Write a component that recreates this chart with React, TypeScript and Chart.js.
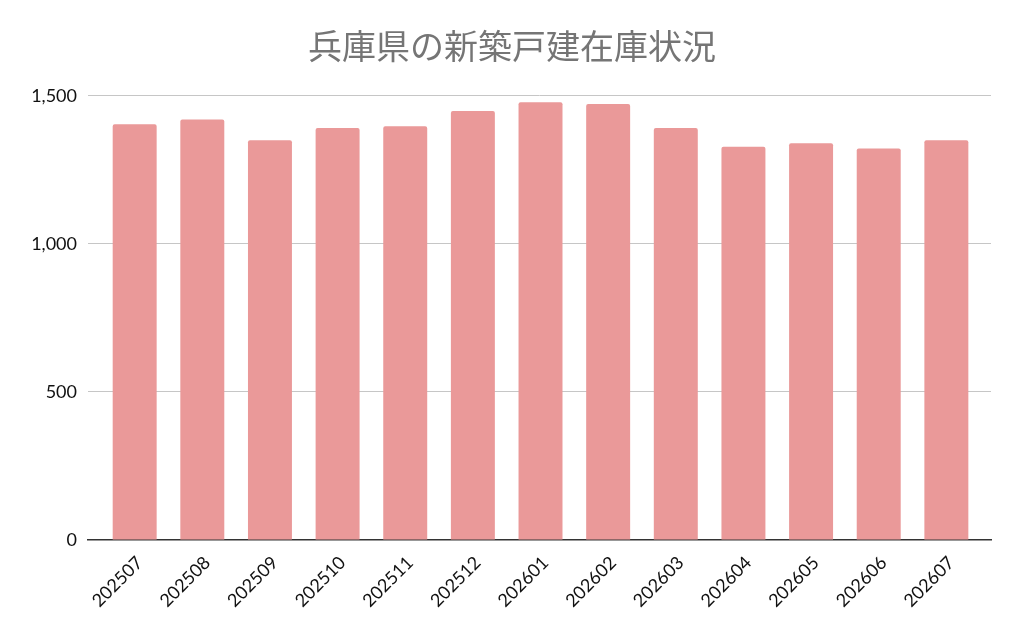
import { useEffect, useRef } from 'react'
import Chart from 'chart.js/auto'

const title = '兵庫県の新築戸建在庫状況'
const months = ['202507', '202508', '202509', '202510', '202511', '202512', '202601', '202602', '202603', '202604', '202605', '202606', '202607']
const stock = [1404, 1420, 1350, 1391, 1397, 1449, 1478, 1472, 1391, 1328, 1340, 1322, 1350]
const yMax = 1500
const yStep = 500

const App = () => {
  const canvasRef = useRef<HTMLCanvasElement>(null)
  const chartRef = useRef<Chart | null>(null)

  useEffect(() => {
    document.body.style.margin = '0'
    if (!canvasRef.current) return
    if (chartRef.current) chartRef.current.destroy()

    // x as a linear index so the bars can sit inset from the ends of the baseline
    const points = stock.map((v, i) => ({ x: i, y: v }))

    chartRef.current = new Chart(canvasRef.current, {
      type: 'bar',
      data: {
        datasets: [{
          label: '在庫',
          data: points,
          backgroundColor: '#ea9999',
          borderRadius: 2,
          borderSkipped: 'bottom',
          barPercentage: 0.65,
          categoryPercentage: 1
        }]
      },
      options: {
        animation: false,
        responsive: true,
        maintainAspectRatio: false,
        plugins: {
          legend: { display: false },
          tooltip: { enabled: false },
          title: {
            display: true,
            text: title,
            color: '#757575',
            font: { family: '"Noto Sans CJK JP", sans-serif', size: 34, weight: 'normal', lineHeight: 1.2 },
            padding: { top: 26, bottom: 29 }
          }
        },
        scales: {
          x: {
            type: 'linear',
            offset: false,
            min: -0.69,
            max: months.length - 1 + 0.66,
            grid: { display: false },
            border: { display: true, color: '#333333', width: 1.5 },
            afterBuildTicks: (axis: any) => {
              axis.ticks = months.map((_, i) => ({ value: i }))
            },
            ticks: {
              autoSkip: false,
              color: '#111111',
              font: { family: 'Lato, sans-serif', size: 18 },
              minRotation: 45,
              maxRotation: 45,
              padding: 4,
              labelOffset: 5,
              callback: (v: any) => months[v] ?? ''
            },
            afterFit: (axis: any) => { axis.height = 93 }
          },
          y: {
            min: 0,
            max: yMax,
            grid: {
              color: (ctx: any) => (ctx.tick && ctx.tick.value === 0 ? 'rgba(0,0,0,0)' : '#c6c6c6'),
              drawTicks: false
            },
            border: { display: false },
            ticks: {
              stepSize: yStep,
              color: '#111111',
              font: { family: 'Lato, sans-serif', size: 18 },
              padding: 11,
              callback: (v: any) => Number(v).toLocaleString('en-US')
            },
            afterFit: (axis: any) => { axis.width = 88 }
          },
          // empty right-hand axis: only reserves the right margin so the title stays centred on the page
          yRight: {
            position: 'right',
            grid: { display: false },
            border: { display: false },
            ticks: { display: false },
            afterFit: (axis: any) => { axis.width = 33 }
          }
        }
      }
    })

    return () => {
      if (chartRef.current) {
        chartRef.current.destroy()
        chartRef.current = null
      }
    }
  }, [])

  return (
    <div style={{ width: 1024, height: 633, position: 'relative', background: '#ffffff' }}>
      <canvas ref={canvasRef}></canvas>
    </div>
  )
}

export default App
